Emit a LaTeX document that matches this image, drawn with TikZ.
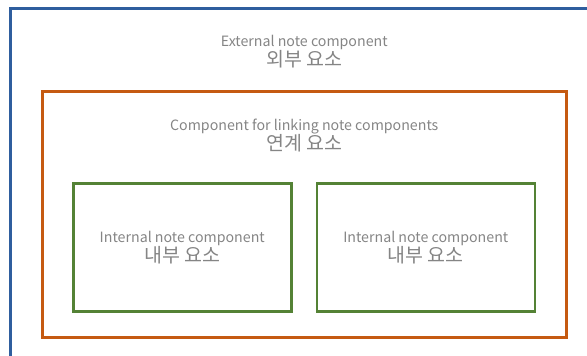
\documentclass[tikz,border=0pt]{standalone}
\usepackage{fontspec}
\setmainfont{Noto Sans CJK KR}
\usetikzlibrary{positioning}
\definecolor{outerblue}{HTML}{2F5E9E}
\definecolor{linkorange}{HTML}{C55A11}
\definecolor{innergreen}{HTML}{548235}
\definecolor{labelgray}{HTML}{858585}
\newcommand{\enlabel}{\fontsize{14.2}{19}\selectfont}
\newcommand{\kolabel}{\fontsize{19.5}{19}\selectfont}
\tikzset{
  framebox/.style={draw, line width=2.5pt, inner sep=0pt, anchor=north west},
  caption/.style={text=labelgray, align=center, inner sep=0pt, font=\fontsize{14}{19}\selectfont}
}
\begin{document}
\begin{tikzpicture}[x=1pt, y=-1pt]
    \useasboundingbox (0,0) rectangle (587,356);
    \clip (0,0) rectangle (587,356);
    % external component
    \node[framebox, draw=outerblue, minimum width=620pt, minimum height=380pt] (outer) at (9,7) {};
    % linking component
    \node[framebox, draw=linkorange, minimum width=524pt, minimum height=246pt] (link) at (41,90) {};
    % internal components
    \node[framebox, draw=innergreen, minimum width=218pt, minimum height=128pt] (innerA) at (72,182) {};
    \node[framebox, draw=innergreen, minimum width=218pt, minimum height=128pt, right=23pt of innerA] (innerB) {};
    % captions
    \node[caption] (outerlbl) at ([yshift=38.5pt]link.north) {{\enlabel External note component}\\{\kolabel 외부 요소}};
    \node[caption] (linklbl) at ([yshift=-45.5pt]link.north) {{\enlabel Component for linking note components}\\{\kolabel 연계 요소}};
    \node[caption, yshift=-0.5pt] (innerAlbl) at (innerA.center) {{\enlabel Internal note component}\\{\kolabel 내부 요소}};
    \node[caption, yshift=-0.5pt] (innerBlbl) at (innerB.center) {{\enlabel Internal note component}\\{\kolabel 내부 요소}};
\end{tikzpicture}
\end{document}
